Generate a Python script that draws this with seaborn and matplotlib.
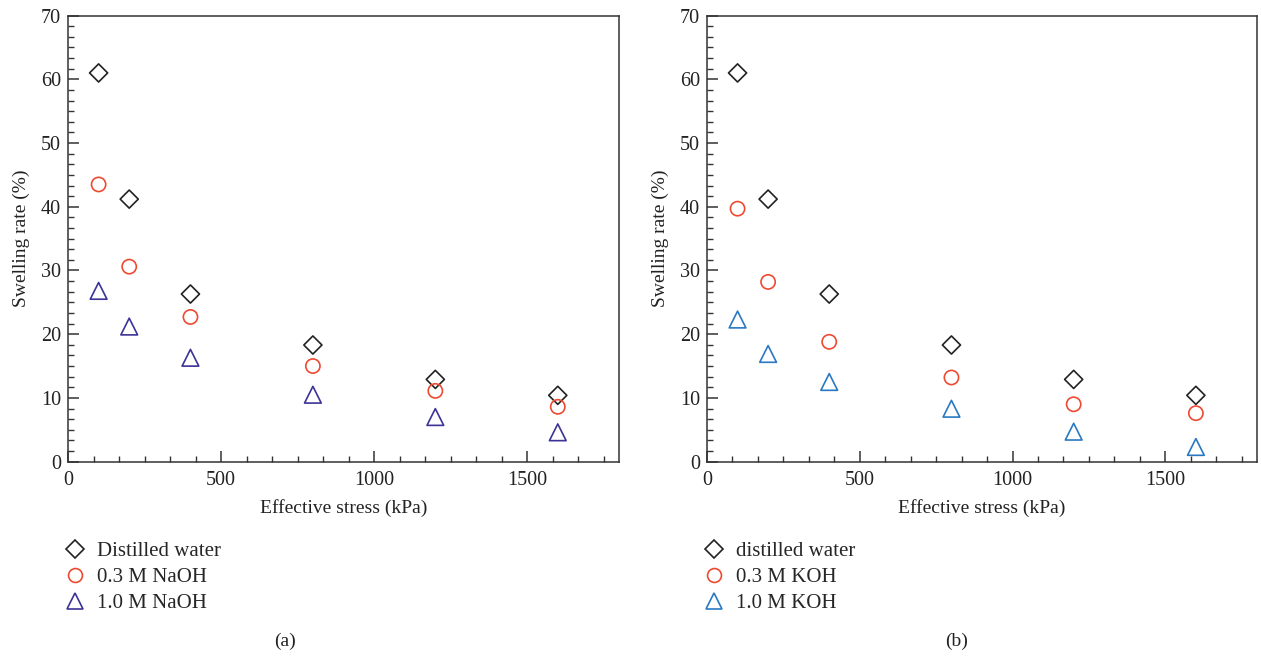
import numpy as np
import pandas as pd
import matplotlib
matplotlib.use("Agg")
import matplotlib.pyplot as plt
from matplotlib.ticker import MultipleLocator
from matplotlib.lines import Line2D
import seaborn as sns

# data
stress = [100, 200, 400, 800, 1200, 1600]
distilled = [61.0, 41.2, 26.3, 18.3, 12.9, 10.4]
naoh_03 = [43.5, 30.6, 22.7, 15.0, 11.1, 8.6]
naoh_10 = [26.8, 21.2, 16.3, 10.5, 7.0, 4.6]
koh_03 = [39.7, 28.2, 18.8, 13.2, 9.0, 7.6]
koh_10 = [22.3, 16.9, 12.5, 8.3, 4.7, 2.3]

left_labels = ["Distilled water", "0.3 M NaOH", "1.0 M NaOH"]
right_labels = ["distilled water", "0.3 M KOH", "1.0 M KOH"]

black = "#222222"
red = "#ee4a32"
navy = "#3b3396"
blue = "#2a78c2"

sns.set_style("ticks")
plt.rcParams["font.family"] = ["Liberation Serif", "DejaVu Serif"]

fig = plt.figure(figsize=(12.61, 6.59), dpi=100)
ax1 = fig.add_axes([68 / 1261, 1 - 461.6 / 659, 551 / 1261, 446 / 659])
ax2 = fig.add_axes([707 / 1261, 1 - 461.6 / 659, 550 / 1261, 446 / 659])


def draw_panel(ax, series, labels, colors, tag):
    markers = ["D", "o", "^"]
    sizes = [85, 105, 145]
    for vals, lab, col, mk, sz in zip(series, labels, colors, markers, sizes):
        df = pd.DataFrame({"stress": stress, "rate": vals})
        sns.scatterplot(data=df, x="stress", y="rate", ax=ax, marker=mk, s=sz,
                        facecolor="none", edgecolor=col, linewidth=1.2, legend=False)
    ax.set_xlim(0, 1800)
    ax.set_ylim(0, 70)
    ax.xaxis.set_major_locator(MultipleLocator(500))
    ax.xaxis.set_minor_locator(MultipleLocator(500 / 6))
    ax.yaxis.set_major_locator(MultipleLocator(10))
    ax.yaxis.set_minor_locator(MultipleLocator(10 / 6))
    ax.tick_params(which="both", direction="in", top=False, right=False,
                   colors="#333333", labelcolor="#222222", labelsize=14.5)
    ax.tick_params(axis="x", which="major", pad=7)
    ax.tick_params(axis="y", which="major", pad=5)
    ax.tick_params(which="major", length=8, width=1.1)
    ax.tick_params(which="minor", length=4.5, width=1.0)
    for sp in ax.spines.values():
        sp.set_visible(True)
        sp.set_color("#333333")
        sp.set_linewidth(1.1)
    ax.set_xlabel("Effective stress (kPa)", fontsize=14, color="#222222", labelpad=6)
    ax.set_ylabel("Swelling rate (%)", fontsize=14, color="#222222", labelpad=8)

    handles = [
        Line2D([], [], linestyle="none", marker=mk, markersize=ms, markerfacecolor="none",
               markeredgecolor=col, markeredgewidth=1.2)
        for mk, ms, col in zip(["D", "o", "^"], [9, 10, 12], colors)
    ]
    x0 = ax.get_position().x0
    fig.legend(handles, labels, loc="upper left", frameon=False, fontsize=15,
               bbox_to_anchor=(x0 - 14 / 1261, 1 - 533 / 659), handletextpad=0.45,
               handlelength=1.2, labelspacing=0.32, borderaxespad=0)
    fig.text(tag[1], 1 - 641 / 659, tag[0], ha="center", va="center",
             fontsize=14, color="#222222")


draw_panel(ax1, [distilled, naoh_03, naoh_10], left_labels, [black, red, navy], ("(a)", 285 / 1261))
draw_panel(ax2, [distilled, koh_03, koh_10], right_labels, [black, red, blue], ("(b)", 957 / 1261))

fig.savefig("out.png", dpi=100)
